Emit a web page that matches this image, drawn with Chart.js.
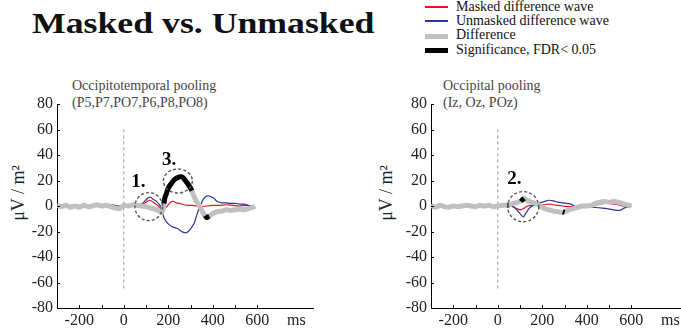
<!DOCTYPE html>
<html>
<head>
<meta charset="utf-8">
<script src="https://cdn.jsdelivr.net/npm/chart.js@4/dist/chart.umd.min.js"></script>
<style>
  html, body { margin:0; padding:0; width:681px; height:329px; overflow:hidden; background:#fff; }
  body { position:relative; font-family:"Liberation Serif", serif; }
  .abs { position:absolute; white-space:nowrap; font-family:"Liberation Serif", serif; }
  #title { left:32px; top:8px; font-size:30px; line-height:30px; font-weight:bold; color:#111; transform-origin:0 0; }
  .leg { left:425px; width:256px; height:16px; }
  .leg .sw { position:absolute; left:0; width:23px; }
  .leg .tx { position:absolute; left:31px; top:0; font-size:14px; line-height:14px; color:#111; font-family:"Liberation Serif", serif; }
  .ptitle { font-size:14px; line-height:16px; color:#444; }
  .ytitle { font-size:18px; line-height:18px; color:#222; transform:translate(-50%,-50%) rotate(-90deg); }
  canvas { position:absolute; top:0; }
</style>
</head>
<body>
<div id="title" class="abs">Masked vs. Unmasked</div>
<div class="abs leg" style="top:0px"><div class="sw" style="top:6px;height:1.5px;background:#e8141c"></div><div class="tx">Masked difference wave</div></div>
<div class="abs leg" style="top:14px"><div class="sw" style="top:6px;height:1.5px;background:#2b3594"></div><div class="tx">Unmasked difference wave</div></div>
<div class="abs leg" style="top:28px"><div class="sw" style="top:6px;height:5px;background:#c0c0c0"></div><div class="tx">Difference</div></div>
<div class="abs leg" style="top:43px"><div class="sw" style="top:5px;height:5px;background:#000"></div><div class="tx">Significance, FDR&lt; 0.05</div></div>

<div class="abs ptitle" style="left:72px;top:78px">Occipitotemporal pooling</div>
<div class="abs ptitle" style="left:72px;top:95px">(P5,P7,PO7,P6,P8,PO8)</div>
<div class="abs ptitle" style="left:443px;top:78px">Occipital pooling</div>
<div class="abs ptitle" style="left:443px;top:95px">(Iz, Oz, POz)</div>
<div class="abs ytitle" style="left:18px;top:193px">μV / m²</div>
<div class="abs ytitle" style="left:386px;top:193px">μV / m²</div>

<canvas id="c1" width="340" height="329" style="left:0px"></canvas>
<canvas id="c2" width="340" height="329" style="left:373.5px"></canvas>

<script>
// ---------- axes ----------
const xMin = -300, xMax = 850;
const yMin = -80, yMax = 80;
const xTicks = [-200, -100, 0, 100, 200, 300, 400, 500, 600];
const xTickLabels = ['-200', '', '0', '', '200', '', '400', '', '600'];
const xUnitLabel = 'ms';
const xUnitAt = 775;
const yTicks = [-80, -60, -40, -20, 0, 20, 40, 60, 80];

// stimulus-onset marker (dashed vertical line)
const onsetX = [0, 0];
const onsetY = [60, -65];

// ---------- Occipitotemporal pooling ----------
const otDiffT = [-300,-280,-260,-240,-220,-200,-180,-160,-140,-120,-100,-80,-60,-40,-20,0,20,40,60,80,100,120,140,160,170,178,184,192,200,215,230,245,258,270,285,300,312,325,340,355,370,385,400,420,440,460,480,500,520,540,560,580,590];
const otDiff  = [0.5,-0.5,0.5,-1,0,-1,0.5,-0.5,0,1,0,0.5,-0.5,-1.5,-2,0.5,0,1,0.5,0,-0.5,-1.5,-2.5,-4,-5,-2,6,10,14,18,21,22.5,23,21.5,18,14,9,4,0,-5,-9,-8,-6,-4.5,-4,-3,-3.5,-3,-2.5,-3,-2,-1,0];
const otMaskedT = [-300,-200,-100,0,50,80,100,115,125,140,155,165,175,185,195,205,215,225,235,250,270,290,310,330,350,370,400,430,460,490,520,550,580];
const otMasked  = [0,0.5,0,0,0.5,1,3,4.5,4,2,0,-2,-3,-2,0,2,3.5,3.5,2.5,2,1,0.5,0.5,0,-0.5,0,0.5,0.5,1,0.5,0,0.5,0];
const otUnmaskedT = [-300,-250,-200,-150,-100,-50,-30,0,50,80,95,110,120,130,145,160,170,180,190,200,215,230,245,255,265,280,290,300,315,330,345,360,375,390,405,420,440,460,480,500,520,540,560,580];
const otUnmasked  = [0,0.5,0,0.5,0,1,0,0,0.5,1.5,4,6.5,7,5.5,4,1,-2,-9,-12,-14,-16,-17,-18,-19.5,-20.5,-21,-20,-18,-14,-6,1,6,8,7.5,6,3.5,2.5,2.5,2,2,1.5,1.5,0.5,0];
const otSigT = [180,184,192,200,215,230,245,258,270,285,300,306,null,366,372,384];
const otSig  = [2,6,10,14,18,21,22.5,23,21.5,18,14,12,null,-7.5,-9,-8];
const otMarkLabels = ['1.', '3.'];
const otMarkX = [65, 204];
const otMarkY = [19, 36];
const otRingX = [112, 243];
const otRingY = [-0.5, 19.6];
const otRingRx = [62, 65];
const otRingRy = [11, 9.4];

// ---------- Occipital pooling ----------
const ocDiffT = [-300,-280,-260,-240,-220,-200,-180,-160,-140,-120,-100,-80,-60,-40,-20,0,20,40,50,60,80,100,118,130,150,170,190,210,230,250,270,290,300,320,340,360,380,400,420,440,460,480,500,520,540,560,580,600];
const ocDiff  = [0.5,-1,0.5,-0.5,-1,0,-0.5,0,0.5,0,-0.5,0.5,0,0.5,-0.5,0,0.5,0.5,0.5,1.5,2.5,3.5,6,4.5,3,2,0,-2,-3,-4,-4.5,-5,-4.5,-3,-2,-1,0,0,0.5,2,3,3.5,3,3.5,3,2,1,0];
const ocMaskedT = [-300,-200,-100,0,60,70,85,100,110,120,135,150,170,190,210,230,250,270,290,310,330,350,380,420,440,460,480,500,520,540,560,580,600];
const ocMasked  = [0,0,0,0,0,-1,-2,-3,-2.5,-1.5,0,0.5,0.5,0.5,1,1.5,1,0.5,0,-0.5,-0.5,0,0,0,0.5,1.5,2,2,1.5,1,0,-0.5,0];
const ocUnmaskedT = [-300,-200,-100,0,60,75,90,105,115,125,140,155,170,190,210,230,250,270,290,310,330,345,370,400,430,460,490,520,540,555,570,590,600];
const ocUnmasked  = [0,0,0,0,0,-1,-4,-7,-8.5,-6,-2,0,1,2.5,3.5,4.5,4,3,2.5,2,1.5,-0.5,0,0,-1,-1.5,-2,-3,-3.5,-3,-1.5,-0.5,0];
const ocSigT = [43,48,null,104,110,118,null,292,300];
const ocSig  = [0.5,0.5,null,3.5,4.8,6,null,-4.6,-5];
const ocMarkLabels = ['2.'];
const ocMarkX = [74];
const ocMarkY = [20.8];
const ocRingX = [114];
const ocRingY = [-0.5];
const ocRingRx = [70];
const ocRingRy = [11.8];

// ---------- helpers ----------
function pts(t, v) { return t.map((x, i) => ({ x: x, y: (x === null ? null : v[i]) })); }

const FONT = '"Liberation Serif", serif';
Chart.defaults.font.family = FONT;

const decorPlugin = {
  id: 'decor',
  afterDatasetsDraw(chart, args, opts) {
    const ctx = chart.ctx, xs = chart.scales.x, ys = chart.scales.y;
    ctx.save();
    ctx.setLineDash([3, 2.2]);
    ctx.strokeStyle = '#555';
    ctx.lineWidth = 1.4;
    opts.ringX.forEach((cx, i) => {
      const px = xs.getPixelForValue(cx), py = ys.getPixelForValue(opts.ringY[i]);
      const rx = Math.abs(xs.getPixelForValue(cx + opts.ringRx[i]) - px);
      const ry = Math.abs(ys.getPixelForValue(opts.ringY[i] + opts.ringRy[i]) - py);
      ctx.beginPath();
      ctx.ellipse(px, py, rx, ry, 0, 0, Math.PI * 2);
      ctx.stroke();
    });
    ctx.setLineDash([]);
    ctx.fillStyle = '#000';
    ctx.font = 'bold 19px ' + FONT;
    ctx.textAlign = 'center';
    ctx.textBaseline = 'middle';
    opts.labels.forEach((s, i) => {
      ctx.fillText(s, xs.getPixelForValue(opts.labelX[i]), ys.getPixelForValue(opts.labelY[i]));
    });
    ctx.restore();
  },
  afterDraw(chart) {
    const ctx = chart.ctx, xs = chart.scales.x, ys = chart.scales.y;
    ctx.save();
    ctx.strokeStyle = '#000';
    ctx.lineWidth = 1;
    ctx.beginPath();
    xTicks.forEach(v => {
      const px = Math.round(xs.getPixelForValue(v)) + 0.5;
      ctx.moveTo(px, ys.bottom);
      ctx.lineTo(px, ys.bottom - 3);
    });
    yTicks.forEach(v => {
      const py = Math.round(ys.getPixelForValue(v)) + 0.5;
      ctx.moveTo(xs.left, py);
      ctx.lineTo(xs.left + 3, py);
    });
    ctx.stroke();
    ctx.restore();
  }
};

function makeChart(id, p) {
  return new Chart(document.getElementById(id), {
    type: 'line',
    data: {
      datasets: [
        { data: pts(p.sigT, p.sig), borderColor: '#000', borderWidth: 5, order: 0, spanGaps: false, borderCapStyle: 'butt' },
        { data: pts(p.diffT, p.diff), borderColor: '#c0c0c0', borderWidth: 5, order: 1 },
        { data: pts(p.unT, p.un), borderColor: '#2b3594', borderWidth: 1.2, order: 2 },
        { data: pts(p.maT, p.ma), borderColor: '#e8141c', borderWidth: 1.2, order: 3 },
        { data: pts(onsetX, onsetY), borderColor: '#9a9a9a', borderWidth: 1, borderDash: [3, 3], order: 4 }
      ]
    },
    options: {
      responsive: false,
      animation: false,
      devicePixelRatio: 1,
      elements: { point: { radius: 0 }, line: { tension: 0.25, borderJoinStyle: 'round' } },
      layout: { padding: { top: 104, right: 27, bottom: 0, left: 0 } },
      plugins: {
        legend: { display: false },
        tooltip: { enabled: false },
        decor: { ringX: p.ringX, ringY: p.ringY, ringRx: p.ringRx, ringRy: p.ringRy, labels: p.labels, labelX: p.labelX, labelY: p.labelY }
      },
      scales: {
        x: {
          type: 'linear', min: xMin, max: xMax,
          afterBuildTicks: s => { s.ticks = xTicks.map(v => ({ value: v })).concat([{ value: xUnitAt }]); },
          afterFit: s => { s.height = 21; },
          grid: { display: true, drawOnChartArea: false, drawTicks: false },
          border: { display: true, color: '#000', width: 1 },
          ticks: {
            autoSkip: false, maxRotation: 0, padding: 3, color: '#222',
            font: { family: FONT, size: 16 },
            callback: (v, i) => (i < xTicks.length ? xTickLabels[i] : xUnitLabel)
          }
        },
        y: {
          type: 'linear', min: yMin, max: yMax,
          afterBuildTicks: s => { s.ticks = yTicks.map(v => ({ value: v })); },
          afterFit: s => { s.width = 57; },
          grid: { display: true, drawOnChartArea: false, drawTicks: false },
          border: { display: true, color: '#000', width: 1 },
          ticks: { autoSkip: false, padding: 4, color: '#222', font: { family: FONT, size: 16 } }
        }
      }
    },
    plugins: [decorPlugin]
  });
}

makeChart('c1', {
  diffT: otDiffT, diff: otDiff, maT: otMaskedT, ma: otMasked, unT: otUnmaskedT, un: otUnmasked,
  sigT: otSigT, sig: otSig, labels: otMarkLabels, labelX: otMarkX, labelY: otMarkY,
  ringX: otRingX, ringY: otRingY, ringRx: otRingRx, ringRy: otRingRy
});
makeChart('c2', {
  diffT: ocDiffT, diff: ocDiff, maT: ocMaskedT, ma: ocMasked, unT: ocUnmaskedT, un: ocUnmasked,
  sigT: ocSigT, sig: ocSig, labels: ocMarkLabels, labelX: ocMarkX, labelY: ocMarkY,
  ringX: ocRingX, ringY: ocRingY, ringRx: ocRingRx, ringRy: ocRingRy
});

const t = document.getElementById('title');
t.style.transform = 'scaleX(' + (343 / t.offsetWidth) + ')';
</script>
</body>
</html>
